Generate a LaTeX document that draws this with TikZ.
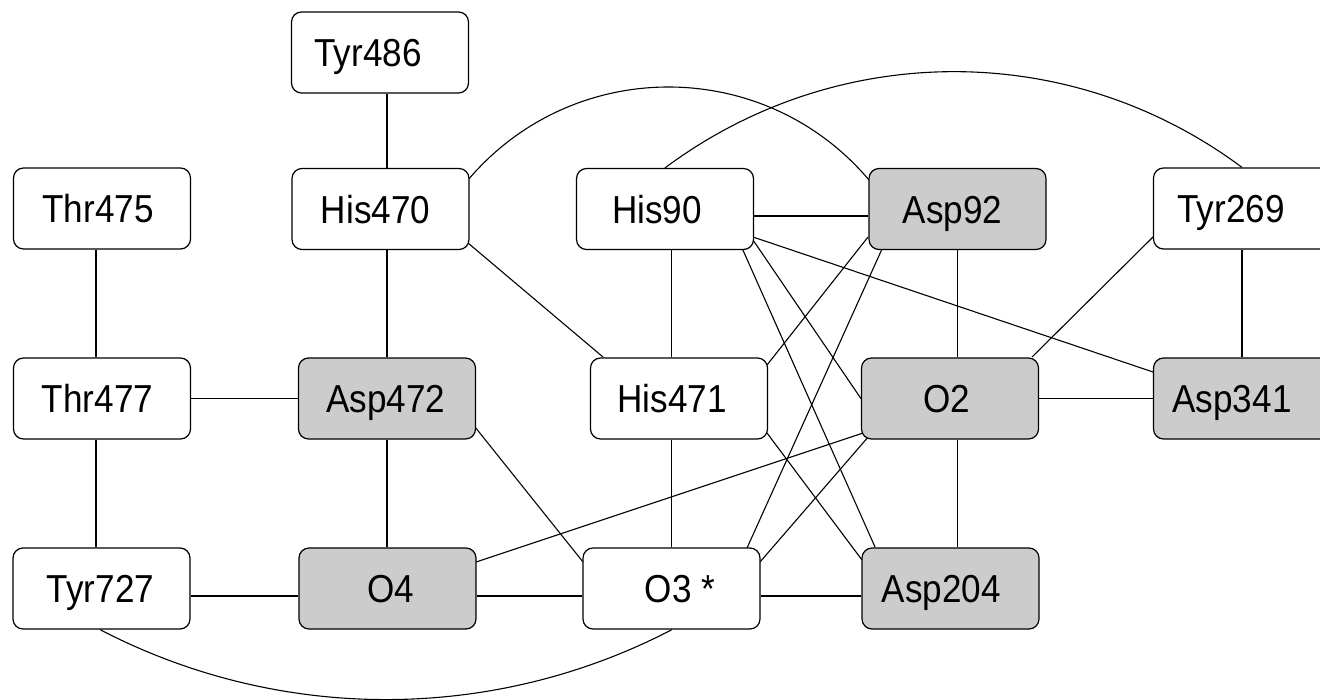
\documentclass[tikz,border=0pt]{standalone}
\usepackage{fontspec}
\setmainfont{Liberation Sans}[FakeStretch=0.9]
\usetikzlibrary{backgrounds}
\definecolor{boxgray}{HTML}{CCCCCC}
\newcommand\shl[2]{#2\hspace*{#1pt}}
\newcommand\shr[2]{\hspace*{#1pt}#2}
\begin{document}
\begin{tikzpicture}[x=0.5pt,y=-0.5pt,
  box/.style={draw=black, line width=0.6pt, rounded corners=5pt,
    minimum width=88.5pt, minimum height=40.5pt, inner sep=0pt, fill=white,
    text height=14pt, text depth=0pt,
    font=\fontsize{19.5}{20}\selectfont},
  gbox/.style={box, fill=boxgray},
  edge/.style={line width=0.55pt, draw=black}]
\useasboundingbox (0,0) rectangle (1320,700);
\clip (0,0) rectangle (1320,700);
% row 1
\node[box]  (Tyr486) at (380,52.5)   {\shl{12}{Tyr486}};
% row 2
\node[box]  (Thr475) at (102,208.5)  {\shl{4}{Thr475}};
\node[box]  (His470) at (380.5,209)  {\shl{5}{His470}};
\node[box]  (His90)  at (665,209)    {\shl{8}{His90}};
\node[gbox] (Asp92)  at (957.5,209)  {\shl{5}{Asp92}};
\node[box]  (Tyr269) at (1242,208.5) {\shl{11}{Tyr269}};
% row 3
\node[box]  (Thr477) at (102,398.5)  {\shl{4.5}{Thr477}};
\node[gbox] (Asp472) at (387,398.5)  {\shl{1}{Asp472}};
\node[box]  (His471) at (679,398.5)  {\shl{7}{His471}};
\node[gbox] (O2)     at (950,398.5)  {\shl{3}{O2}};
\node[gbox] (Asp341) at (1242,398.5) {\shl{10}{Asp341}};
% row 4
\node[box]  (Tyr727) at (101.5,588.5) {\shl{1}{Tyr727}};
\node[gbox] (O4)     at (387.5,588.5) {\shr{3}{O4}};
\node[box]  (O3)     at (671.5,588.5) {\shr{8.5}{O3 *}};
\node[gbox] (Asp204) at (950.5,588.5) {\shl{9}{Asp204}};

\begin{scope}[on background layer]
% vertical connectors
\draw[edge] ([shift={(-6,0)}]Thr475.south) -- ([shift={(-6,0)}]Thr477.north);
\draw[edge] ([shift={(-6,0)}]Thr477.south) -- ([shift={(-5.5,0)}]Tyr727.north);
\draw[edge] (Tyr486.south -| Asp472.center) -- (His470.north -| Asp472.center);
\draw[edge] (His470.south -| Asp472.center) -- (Asp472.north);
\draw[edge] (Asp472.south) -- (O4.north -| Asp472.center);
\draw[edge] (His90.south -| O3.center) -- (His471.north -| O3.center);
\draw[edge] (His471.south -| O3.center) -- (O3.north);
\draw[edge] (Asp92.south) -- (O2.north -| Asp92.center);
\draw[edge] (O2.south -| Asp92.center) -- (Asp204.north -| Asp92.center);
\draw[edge] (Tyr269.south) -- (Asp341.north);
% horizontal connectors
\draw[edge] (Thr477.east) -- (Asp472.west);
\draw[edge] ([shift={(0,7.5)}]Tyr727.east) -- ([shift={(0,7.5)}]O4.west);
\draw[edge] ([shift={(0,7.5)}]O4.east) -- ([shift={(0,7.5)}]O3.west);
\draw[edge] ([shift={(0,7.5)}]O3.east) -- ([shift={(0,7.5)}]Asp204.west);
\draw[edge] ([shift={(0,7)}]His90.east) -- ([shift={(0,7)}]Asp92.west);
\draw[edge] (O2.east) -- (Asp341.west);
% diagonal connectors
\draw[edge] ([shift={(87.5,34)}]His470.center) -- ([shift={(-76,-41.5)}]His471.center);
\draw[edge] ([shift={(88,28.5)}]Asp472.center) -- ([shift={(-88.5,-26.5)}]O3.center);
\draw[edge] ([shift={(88,28)}]His90.center) -- ([shift={(-89,-26.5)}]Asp341.center);
\draw[edge] ([shift={(88,31)}]His90.center) -- (O2.west);
\draw[edge] ([shift={(77,39)}]His90.center) -- ([shift={(-75.5,-41.5)}]Asp204.center);
\draw[edge] ([shift={(88,34.5)}]His471.center) -- ([shift={(-88.5,-28.5)}]Asp204.center);
\draw[edge] ([shift={(-89.5,28)}]Asp92.center) -- ([shift={(88,-33.5)}]His471.center);
\draw[edge] ([shift={(-75.5,40)}]Asp92.center) -- ([shift={(75.5,-40.5)}]O3.center);
\draw[edge] ([shift={(-81,37.5)}]O2.center) -- ([shift={(88.5,-26.5)}]O3.center);
\draw[edge] ([shift={(-87,34.5)}]O2.center) -- ([shift={(88.5,-26.5)}]O4.center);
\draw[edge] ([shift={(82,-41.5)}]O2.center) -- ([shift={(-89,28.5)}]Tyr269.center);
% arcs
\draw[edge] ([shift={(87.5,-29)}]His470.center) .. controls +(104.9,-124) and +(-104.9,-124) .. ([shift={(-88.5,-29)}]Asp92.center);
\draw[edge] (His90.north) .. controls +(171.7,-128) and +(-171.7,-128) .. (Tyr269.north);
\draw[edge] ([shift={(-1.5,0)}]Tyr727.south) .. controls +(179.3,93.3) and +(-179.3,93.3) .. ([shift={(0.5,0)}]O3.south);
\end{scope}
\end{tikzpicture}
\end{document}
